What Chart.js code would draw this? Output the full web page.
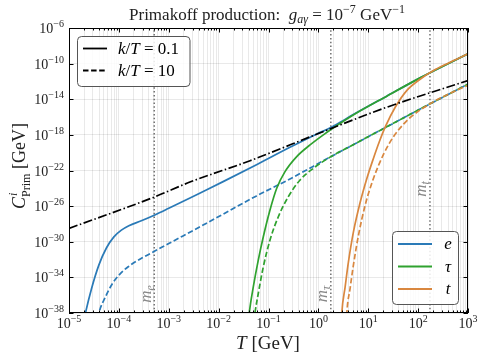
<!DOCTYPE html>
<html>
<head>
<meta charset="utf-8">
<script src="https://cdn.jsdelivr.net/npm/chart.js@4"></script>
<style>
  html, body { margin: 0; padding: 0; background: #fff; }
</style>
</head>
<body>
<canvas id="chart" width="485" height="360"></canvas>
<script>
// ===== Datos (valores en log10) =====
const xExps = [-5, -4, -3, -2, -1, 0, 1, 2, 3];               // etiquetas eje T
const yExps = [-6, -10, -14, -18, -22, -26, -30, -34, -38];   // etiquetas eje C
const masses = [0.000511, 1.777, 172.7];                        // m_e, m_tau, m_t [GeV]
const massNames = ['e', 'τ', 't'];

// electrón
const eSolidLogT = [-4.70, -4.67, -4.55, -4.40, -4.25, -4.10, -3.95, -3.80, -3.55, -3.28, -3.00, -2.40, -1.91, -1.24, -0.57, -0.03, 0.20, 0.37, 0.70, 1.37, 2.04, 3.00];
const eSolidLogC = [-38.8, -38.0, -35.3, -32.6, -30.7, -29.45, -28.7, -28.2, -27.65, -27.0, -26.25, -24.6, -23.25, -21.35, -19.4, -17.9, -17.3, -16.8, -15.72, -13.65, -11.6, -8.9];
const eDashLogT = [-4.42, -4.40, -4.27, -4.14, -4.00, -3.80, -3.53, -3.28, -3.00, -2.40, -1.91, -1.24, -0.57, 0.20, 0.70, 1.37, 2.04, 3.00];
const eDashLogC = [-38.6, -38.0, -36.2, -34.8, -33.75, -32.75, -31.8, -31.05, -30.2, -28.4, -26.9, -24.85, -22.95, -20.6, -19.1, -17.1, -15.1, -12.3];

// tau
const tauSolidLogT = [-1.40, -1.386, -1.305, -1.205, -1.104, -0.970, -0.835, -0.669, -0.434, -0.167, 0.10, 0.37, 0.70, 1.37, 2.04, 3.00];
const tauSolidLogC = [-38.8, -38.0, -35.07, -32.06, -29.44, -26.44, -24.0, -22.13, -20.44, -19.13, -18.0, -16.95, -15.76, -13.65, -11.6, -8.9];
const tauDashLogT = [-1.29, -1.271, -1.205, -1.104, -0.970, -0.803, -0.602, -0.367, -0.10, 0.235, 0.70, 1.37, 2.04, 3.00];
const tauDashLogC = [-38.9, -38.0, -35.81, -32.82, -29.81, -27.19, -24.94, -23.06, -21.75, -20.5, -19.1, -17.1, -15.1, -12.3];

// top
const topSolidLogT = [0.46, 0.47, 0.536, 0.602, 0.703, 0.837, 0.972, 1.10, 1.22, 1.35, 1.54, 1.775, 2.04, 2.30, 2.60, 3.00];
const topSolidLogC = [-39.2, -38.0, -35.1, -32.3, -28.9, -25.6, -22.9, -20.7, -18.8, -17.0, -14.9, -13.0, -11.75, -10.8, -9.95, -8.9];
const topDashLogT = [0.56, 0.57, 0.637, 0.703, 0.803, 0.938, 1.104, 1.305, 1.506, 1.707, 1.841, 2.243, 2.711, 3.00];
const topDashLogC = [-39.2, -38.0, -35.2, -32.6, -29.3, -25.9, -22.9, -20.2, -18.2, -16.8, -16.05, -14.5, -13.15, -12.45];

// referencia (punto-raya negra)
const refLogT = [-5, -3.29, -2.576, -1.37, 0, 1.37, 3];
const refLogC = [-28.5, -24.98, -23.3, -20.9, -17.85, -14.9, -11.9];

// ===== Colores =====
const cBlue = '#2a7ab7';
const cGreen = '#2fa22f';
const cOrange = '#d9873f';
const SERIF = '"Liberation Serif", "DejaVu Serif", serif';

function pts(lt, lc) {
    return lt.map((v, i) => ({ x: Math.pow(10, v), y: Math.pow(10, lc[i]) }));
}

function curve(lt, lc, color, dash, order) {
    return {
        data: pts(lt, lc),
        borderColor: color,
        borderWidth: 1.7,
        borderDash: dash,
        showLine: true,
        pointRadius: 0,
        cubicInterpolationMode: 'monotone',
        order: order,
    };
}

const DASH = [5.5, 2.6];
const datasets = [
    curve(refLogT, refLogC, '#000', [9, 2.5, 1.5, 2.5], 0),
    curve(topSolidLogT, topSolidLogC, cOrange, [], 1),
    curve(topDashLogT, topDashLogC, cOrange, DASH, 2),
    curve(tauSolidLogT, tauSolidLogC, cGreen, [], 3),
    curve(tauDashLogT, tauDashLogC, cGreen, DASH, 4),
    curve(eSolidLogT, eSolidLogC, cBlue, [], 5),
    curve(eDashLogT, eDashLogC, cBlue, DASH, 6),
];
// líneas verticales de masas
masses.forEach(m => {
    datasets.push({
        data: [{ x: m, y: 1e-38 }, { x: m, y: 1e-6 }],
        borderColor: '#666',
        borderWidth: 1.4,
        borderDash: [1.5, 2.3],
        showLine: true,
        pointRadius: 0,
        order: 10,
    });
});

// valores de rejilla
const xGrid = [];
xExps.forEach(e => {
    for (let s = 1; s <= 9; s++) {
        if (e === 3 && s > 1) break;
        xGrid.push(s * Math.pow(10, e));
    }
});
const yGrid = yExps.map(e => Math.pow(10, e));

// ===== Utilidades de texto =====
function runs(ctx, parts, x, y, align) {
    let w = 0;
    parts.forEach(p => { ctx.font = p.f; p.w = ctx.measureText(p.t).width; w += p.w; });
    let cx = align === 'center' ? x - w / 2 : align === 'right' ? x - w : x;
    ctx.textAlign = 'left';
    ctx.textBaseline = 'alphabetic';
    parts.forEach(p => {
        ctx.font = p.f;
        ctx.fillText(p.t, cx, y + (p.dy || 0));
        cx += p.w;
    });
}

function pow10(exp) {
    return [
        { t: '10', f: '14px ' + SERIF },
        { t: (exp < 0 ? '−' : '') + Math.abs(exp), f: '10px ' + SERIF, dy: -6 },
    ];
}

function roundRect(ctx, x, y, w, h, r) {
    ctx.beginPath();
    ctx.moveTo(x + r, y);
    ctx.arcTo(x + w, y, x + w, y + h, r);
    ctx.arcTo(x + w, y + h, x, y + h, r);
    ctx.arcTo(x, y + h, x, y, r);
    ctx.arcTo(x, y, x + w, y, r);
    ctx.closePath();
}

const decor = {
    id: 'decor',
    beforeDraw(chart) {
        const c = chart.ctx;
        c.save();
        c.fillStyle = '#fff';
        c.fillRect(0, 0, chart.width, chart.height);
        c.restore();
    },
    afterDraw(chart) {
        const c = chart.ctx;
        const a = chart.chartArea;
        const xs = chart.scales.x, ys = chart.scales.y;
        c.save();

        // marco
        c.strokeStyle = '#000';
        c.lineWidth = 1;
        c.strokeRect(a.left + 0.5, a.top + 0.5, a.right - a.left - 1, a.bottom - a.top - 1);

        // marcas hacia dentro
        c.beginPath();
        xGrid.forEach(v => {
            const px = Math.round(xs.getPixelForValue(v)) + 0.5;
            const major = Math.abs(Math.log10(v) - Math.round(Math.log10(v))) < 1e-9;
            const L = major ? 4.5 : 2.5;
            c.moveTo(px, a.bottom); c.lineTo(px, a.bottom - L);
            c.moveTo(px, a.top); c.lineTo(px, a.top + L);
        });
        yGrid.forEach(v => {
            const py = Math.round(ys.getPixelForValue(v)) + 0.5;
            c.moveTo(a.left, py); c.lineTo(a.left + 4.5, py);
            c.moveTo(a.right, py); c.lineTo(a.right - 4.5, py);
        });
        c.stroke();

        // etiquetas de ejes
        c.fillStyle = '#222';
        xExps.forEach(e => {
            const px = xs.getPixelForValue(Math.pow(10, e));
            runs(c, pow10(e), px, 328, 'center');
        });
        yExps.forEach(e => {
            const py = ys.getPixelForValue(Math.pow(10, e));
            runs(c, pow10(e), a.left - 5, py + 5, 'right');
        });

        // etiquetas de masas (rotadas)
        c.fillStyle = '#888';
        const massY = [294, 294, 189];
        masses.forEach((m, i) => {
            const px = xs.getPixelForValue(m);
            c.save();
            c.translate(px - 3.5, massY[i]);
            c.rotate(-Math.PI / 2);
            runs(c, [
                { t: 'm', f: 'italic 17px ' + SERIF },
                { t: massNames[i], f: 'italic 12px ' + SERIF, dy: 3 },
            ], 0, 0, 'center');
            c.restore();
        });

        // leyenda superior izquierda (estilos)
        c.fillStyle = 'rgba(255,255,255,0.85)';
        roundRect(c, 77.5, 36.5, 112.5, 50, 4);
        c.fill();
        c.strokeStyle = '#555';
        c.lineWidth = 1;
        c.stroke();
        const styleRows = [{ y: 48.5, dash: [], v: '0.1' }, { y: 70.5, dash: DASH, v: '10' }];
        styleRows.forEach(r => {
            c.strokeStyle = '#000';
            c.lineWidth = 1.8;
            c.setLineDash(r.dash);
            c.beginPath(); c.moveTo(83, r.y); c.lineTo(107, r.y); c.stroke();
            c.setLineDash([]);
            c.fillStyle = '#000';
            runs(c, [
                { t: 'k', f: 'italic 17px ' + SERIF },
                { t: '/', f: '17px ' + SERIF },
                { t: 'T', f: 'italic 17px ' + SERIF },
                { t: ' = ' + r.v, f: '17px ' + SERIF },
            ], 118, r.y + 5.5, 'left');
        });

        // leyenda inferior derecha (partículas)
        c.fillStyle = 'rgba(255,255,255,0.85)';
        roundRect(c, 392.5, 231.5, 66, 73, 4);
        c.fill();
        c.strokeStyle = '#555';
        c.lineWidth = 1;
        c.stroke();
        const partRows = [{ y: 244, col: cBlue, n: 'e' }, { y: 266.5, col: cGreen, n: 'τ' }, { y: 289, col: cOrange, n: 't' }];
        partRows.forEach(r => {
            c.strokeStyle = r.col;
            c.lineWidth = 1.8;
            c.beginPath(); c.moveTo(398, r.y); c.lineTo(432, r.y); c.stroke();
            c.fillStyle = '#000';
            runs(c, [{ t: r.n, f: 'italic 17px ' + SERIF }], 448, r.y + 5, 'center');
        });

        // título
        c.fillStyle = '#222';
        runs(c, [
            { t: 'Primakoff production:  ', f: '17px ' + SERIF },
            { t: 'g', f: 'italic 17px ' + SERIF },
            { t: 'aγ', f: 'italic 12px ' + SERIF, dy: 3 },
            { t: ' = 10', f: '17px ' + SERIF },
            { t: '−7', f: '12px ' + SERIF, dy: -7 },
            { t: ' GeV', f: '17px ' + SERIF },
            { t: '−1', f: '12px ' + SERIF, dy: -7 },
        ], 267, 20, 'center');

        // título eje x
        runs(c, [
            { t: 'T', f: 'italic 19px ' + SERIF },
            { t: ' [GeV]', f: '19px ' + SERIF },
        ], 268, 349, 'center');

        // título eje y (rotado)
        c.save();
        c.translate(25, 166);
        c.rotate(-Math.PI / 2);
        c.font = 'italic 18px ' + SERIF;
        const wC = c.measureText('C').width;
        c.font = '12px ' + SERIF;
        const wSub = c.measureText('Prim').width;
        c.font = '18px ' + SERIF;
        const wG = c.measureText(' [GeV]').width;
        const total = wC + wSub + wG;
        const sx = -total / 2;
        c.font = 'italic 18px ' + SERIF;
        c.fillText('C', sx, 0);
        c.font = 'italic 12px ' + SERIF;
        c.fillText('i', sx + wC + 1, -8);
        c.font = '12px ' + SERIF;
        c.fillText('Prim', sx + wC, 5);
        c.font = '18px ' + SERIF;
        c.fillText(' [GeV]', sx + wC + wSub, 0);
        c.restore();

        c.restore();
    }
};

new Chart(document.getElementById('chart').getContext('2d'), {
    type: 'scatter',
    data: { datasets: datasets },
    options: {
        responsive: false,
        animation: false,
        layout: { padding: { left: 69, top: 28, right: 17, bottom: 47 } },
        plugins: {
            legend: { display: false },
            tooltip: { enabled: false },
            title: { display: false },
        },
        scales: {
            x: {
                type: 'logarithmic',
                min: 1e-5,
                max: 1e3,
                afterBuildTicks: s => { s.ticks = xGrid.map(v => ({ value: v })); },
                ticks: { display: false },
                grid: { color: 'rgba(0,0,0,0.11)', lineWidth: 0.8, drawTicks: false },
                border: { display: false },
            },
            y: {
                type: 'logarithmic',
                min: 1e-38,
                max: 1e-6,
                afterBuildTicks: s => { s.ticks = yGrid.map(v => ({ value: v })); },
                ticks: { display: false },
                grid: { color: 'rgba(0,0,0,0.11)', lineWidth: 0.8, drawTicks: false },
                border: { display: false },
            },
        },
    },
    plugins: [decor],
});
</script>
</body>
</html>
